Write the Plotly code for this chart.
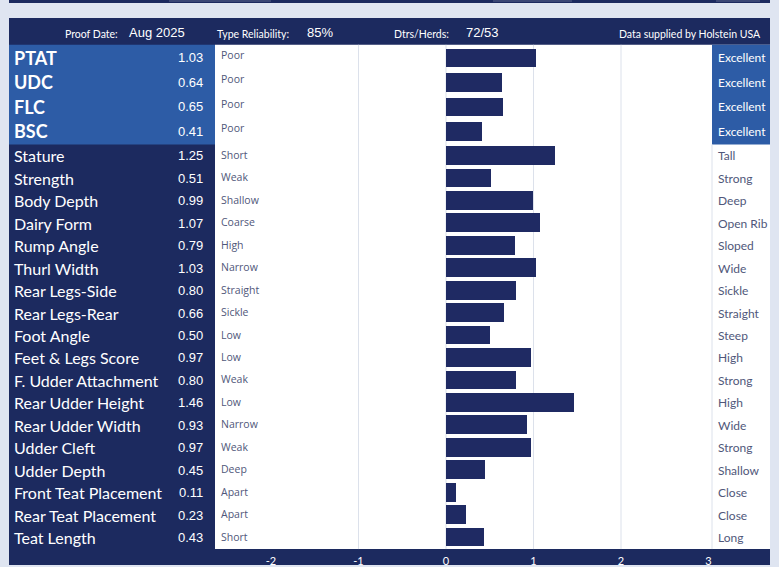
import plotly.graph_objects as go

W, H = 779, 567

# ---------------- data ----------------
header_labels = ["Proof Date:", "Type Reliability:", "Dtrs/Herds:"]
header_values = ["Aug 2025", "85%", "72/53"]
source_text = "Data supplied by Holstein USA"

traits_top = ["PTAT", "UDC", "FLC", "BSC"]
values_top = [1.03, 0.64, 0.65, 0.41]
low_top = ["Poor", "Poor", "Poor", "Poor"]
high_top = ["Excellent", "Excellent", "Excellent", "Excellent"]

traits = ["Stature", "Strength", "Body Depth", "Dairy Form", "Rump Angle",
          "Thurl Width", "Rear Legs-Side", "Rear Legs-Rear", "Foot Angle",
          "Feet & Legs Score", "F. Udder Attachment", "Rear Udder Height",
          "Rear Udder Width", "Udder Cleft", "Udder Depth",
          "Front Teat Placement", "Rear Teat Placement", "Teat Length"]
values = [1.25, 0.51, 0.99, 1.07, 0.79, 1.03, 0.80, 0.66, 0.50, 0.97,
          0.80, 1.46, 0.93, 0.97, 0.45, 0.11, 0.23, 0.43]
low = ["Short", "Weak", "Shallow", "Coarse", "High", "Narrow", "Straight",
       "Sickle", "Low", "Low", "Weak", "Low", "Narrow", "Weak", "Deep",
       "Apart", "Apart", "Short"]
high = ["Tall", "Strong", "Deep", "Open Rib", "Sloped", "Wide", "Sickle",
        "Straight", "Steep", "High", "Strong", "High", "Wide", "Strong",
        "Shallow", "Close", "Close", "Long"]

tick_vals = [-2, -1, 0, 1, 2, 3]
grid_vals = [-1, 0, 1, 2]
x_range = [-2.64, 3.04]

# ---------------- style ----------------
NAVY = "#1c2a5f"
BLUE = "#2d5ca6"
LIGHT = "#dfe5f1"
BAR = "#1f2a63"
GRID = "#dce1eb"
LOWC = "#50577a"
HIGHC = "#50577a"


def px(x):
    return x / W


def py(y):
    return 1 - y / H


fig = go.Figure()

fig.add_trace(go.Bar(x=values_top, y=traits_top, orientation="h",
                     marker=dict(color=BAR, line=dict(width=0)),
                     width=0.76, xaxis="x", yaxis="y2",
                     hoverinfo="x+y", showlegend=False))
fig.add_trace(go.Bar(x=values, y=traits, orientation="h",
                     marker=dict(color=BAR, line=dict(width=0)),
                     width=0.84, xaxis="x", yaxis="y",
                     hoverinfo="x+y", showlegend=False))

shapes = []


def rect(x0, y0, x1, y1, color):
    shapes.append(dict(type="rect", xref="paper", yref="paper",
                       x0=px(x0), x1=px(x1), y0=py(y1), y1=py(y0),
                       fillcolor=color, line=dict(width=0), layer="below"))


# panel & areas
rect(9, 0, 770, 3, NAVY)
for a, b in [(169, 271), (493, 572), (716, 760)]:
    rect(a, 0, b, 2, "#3b4775")
rect(9, 18, 770, H, NAVY)
rect(215, 45, 770, 551, "white")
rect(9, 45, 215, 145, BLUE)
rect(712, 45, 770, 145, BLUE)
# right column separator
shapes.append(dict(type="line", xref="paper", yref="paper",
                   x0=px(712), x1=px(712), y0=py(551), y1=py(145),
                   line=dict(color=GRID, width=1), layer="below"))
# gridlines
for g in grid_vals:
    shapes.append(dict(type="line", xref="x", yref="paper",
                       x0=g, x1=g, y0=py(551), y1=py(45),
                       line=dict(color=GRID, width=1), layer="below"))

ann = []
# header
hdr_pos = [(120, 127), (291, 305), (451, 464)]
for (xl, xv), lab, val in zip(hdr_pos, header_labels, header_values):
    ann.append(dict(x=px(xl), y=py(34), xref="paper", yref="paper",
                    text=lab, showarrow=False, xanchor="right", yanchor="middle",
                    font=dict(family="Lato", size=10.5, color="white")))
    ann.append(dict(x=px(xv), y=py(33), xref="paper", yref="paper",
                    text=val, showarrow=False, xanchor="left", yanchor="middle",
                    font=dict(family="Liberation Sans", size=13, color="white")))
ann.append(dict(x=px(763), y=py(34), xref="paper", yref="paper",
                text=source_text, showarrow=False, xanchor="right", yanchor="middle",
                font=dict(family="Lato", size=10.5, color="white")))

# top rows
for t, v, lo, hi in zip(traits_top, values_top, low_top, high_top):
    ann.append(dict(x=px(12), y=t, xref="paper", yref="y2", text=t,
                    showarrow=False, xanchor="left", yanchor="middle",
                    font=dict(family="Lato", size=18, color="white", weight="bold")))
    ann.append(dict(x=px(205), y=t, xref="paper", yref="y2", text=f"{v:.2f}",
                    showarrow=False, xanchor="right", yanchor="middle",
                    font=dict(family="Liberation Sans", size=13, color="white")))
    ann.append(dict(x=px(219), y=t, xref="paper", yref="y2", text=lo,
                    showarrow=False, xanchor="left", yanchor="middle", yshift=3,
                    font=dict(family="Open Sans", size=10.5, color=LOWC)))
    ann.append(dict(x=px(716), y=t, xref="paper", yref="y2", text=hi,
                    showarrow=False, xanchor="left", yanchor="middle",
                    font=dict(family="Lato", size=12, color="white")))

# linear trait rows
for t, v, lo, hi in zip(traits, values, low, high):
    ann.append(dict(x=px(12), y=t, xref="paper", yref="y", text=t,
                    showarrow=False, xanchor="left", yanchor="middle",
                    font=dict(family="Lato", size=16, color="white")))
    ann.append(dict(x=px(205), y=t, xref="paper", yref="y", text=f"{v:.2f}",
                    showarrow=False, xanchor="right", yanchor="middle",
                    font=dict(family="Liberation Sans", size=13, color="white")))
    ann.append(dict(x=px(219), y=t, xref="paper", yref="y", text=lo,
                    showarrow=False, xanchor="left", yanchor="middle", yshift=1,
                    font=dict(family="Open Sans", size=10.5, color=LOWC)))
    ann.append(dict(x=px(716), y=t, xref="paper", yref="y", text=hi,
                    showarrow=False, xanchor="left", yanchor="middle",
                    font=dict(family="Lato", size=12, color=HIGHC)))

fig.update_layout(
    width=W, height=H,
    margin=dict(l=0, r=0, t=0, b=0),
    paper_bgcolor=LIGHT,
    plot_bgcolor="rgba(0,0,0,0)",
    bargap=0,
    showlegend=False,
    xaxis=dict(domain=[px(215), px(712)], range=x_range, anchor="y",
               tickvals=tick_vals, ticktext=[str(t) for t in tick_vals],
               showgrid=False, zeroline=False, showline=False, ticks="",
               ticklabelstandoff=4,
               tickfont=dict(family="Lato", size=11, color="white"),
               fixedrange=True),
    yaxis=dict(domain=[py(551), py(145)], type="category",
               categoryorder="array", categoryarray=traits,
               autorange="reversed", showticklabels=False,
               showgrid=False, zeroline=False, showline=False, ticks="",
               fixedrange=True),
    yaxis2=dict(domain=[py(145), py(45)], type="category",
                categoryorder="array", categoryarray=traits_top,
                autorange="reversed", showticklabels=False, anchor="x",
                showgrid=False, zeroline=False, showline=False, ticks="",
                fixedrange=True),
    shapes=shapes,
    annotations=ann,
)

fig.write_html(
    "out.html",
    config={"displayModeBar": False},
    post_script=("document.body.style.margin='0';"
                 "document.body.style.overflow='hidden';"
                 "document.body.style.background='" + LIGHT + "';"),
)
